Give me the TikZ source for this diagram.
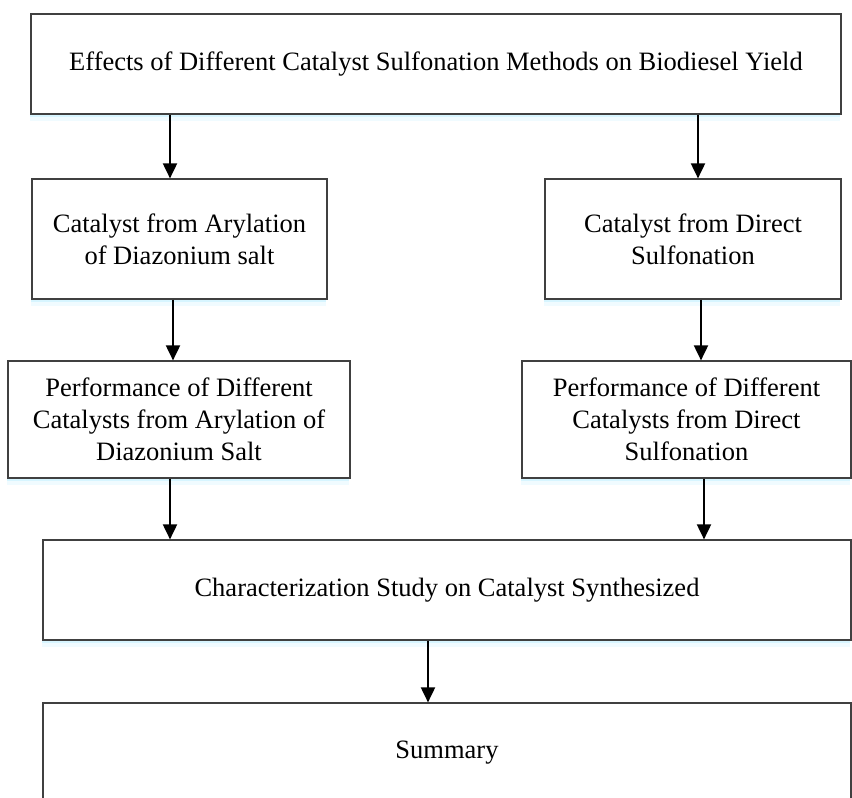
\documentclass[tikz,border=0pt]{standalone}
\usepackage{fontspec}
\setmainfont{Liberation Serif}
\usepackage{tikz}
\usetikzlibrary{positioning,calc,arrows.meta,shadows}
\usepackage{xcolor}

\begin{document}
\begin{tikzpicture}[
            x=1pt, y=-1pt,
            box/.style={
                draw=black!75,
                fill=white,
                line width=1.2pt,
                inner sep=0pt,
                align=center,
                font=\fontsize{26.5}{32}\selectfont,
                drop shadow={shadow xshift=-1pt, shadow yshift=-3pt, fill=blue!25!cyan!30, opacity=0.4},
                drop shadow={shadow xshift=-1pt, shadow yshift=-7pt, fill=blue!25!cyan!30, opacity=0.2}
            },
            arrow/.style={-{Triangle[width=14pt,length=15pt]}, line width=1.9pt}
        ]
        \useasboundingbox (0,0) rectangle (852,798);
        \clip (0,0) rectangle (852,798);

        \node[box, minimum width=810pt, minimum height=100pt] (effects) at (436,64)
            {Effects of Different Catalyst Sulfonation Methods on Biodiesel Yield};
        \node[box, minimum width=295pt, minimum height=120pt] (arycat) at (179.5,239)
            {Catalyst from Arylation\\of Diazonium salt};
        \node[box, minimum width=296pt, minimum height=120pt] (dircat) at (693,239)
            {Catalyst from Direct\\Sulfonation};
        \node[box, minimum width=342pt, minimum height=117pt] (aryperf) at (179,419.5)
            {Performance of Different\\Catalysts from Arylation of\\Diazonium Salt};
        \node[box, minimum width=329pt, minimum height=117pt] (dirperf) at (686.5,419.5)
            {Performance of Different\\Catalysts from Direct\\Sulfonation};
        \node[box, minimum width=808pt, minimum height=100pt] (charac) at (447,590)
            {Characterization Study on Catalyst Synthesized};
        \node[box, minimum width=808pt, minimum height=100pt] (summary) at (447,753)
            {Summary};

        \draw[arrow] ($(effects.south -| arycat.north)+(-9.5,0)$) -- ($(arycat.north)+(-9.5,0)$);
        \draw[arrow] ($(effects.south -| dircat.north)+(5,0)$) -- ($(dircat.north)+(5,0)$);
        \draw[arrow] ($(arycat.south)+(-6.5,0)$) -- ($(aryperf.north -| arycat.south)+(-6.5,0)$);
        \draw[arrow] ($(dircat.south)+(8,0)$) -- ($(dirperf.north -| dircat.south)+(8,0)$);
        \draw[arrow] ($(aryperf.south)+(-9,0)$) -- ($(charac.north -| aryperf.south)+(-9,0)$);
        \draw[arrow] ($(dirperf.south)+(17.5,0)$) -- ($(charac.north -| dirperf.south)+(17.5,0)$);
        \draw[arrow] ($(charac.south)+(-19,0)$) -- ($(summary.north)+(-19,0)$);

        \end{tikzpicture}
\end{document}
